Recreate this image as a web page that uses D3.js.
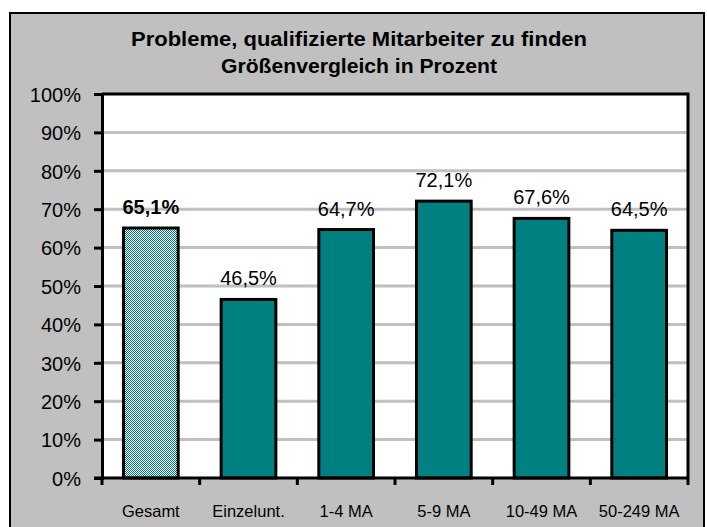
<!DOCTYPE html>
<html><head><meta charset="utf-8">
<script src="https://cdn.jsdelivr.net/npm/d3@7"></script>
<style>body{margin:0;background:#fff}svg{display:block;font-family:Arial,"Liberation Sans",sans-serif}</style>
</head><body><svg id="c" width="707" height="527"></svg>
<script>
const categories = ["Gesamt","Einzelunt.","1-4 MA","5-9 MA","10-49 MA","50-249 MA"];
const values = [65.1,46.5,64.7,72.1,67.6,64.5];
const valueLabels = ["65,1%","46,5%","64,7%","72,1%","67,6%","64,5%"];
const yTicks = [0,10,20,30,40,50,60,70,80,90,100];
const titleLines = ["Probleme, qualifizierte Mitarbeiter zu finden","Größenvergleich in Prozent"];

const FONT = "Arial, 'Liberation Sans', sans-serif";
const svg = d3.select("#c");
const defs = svg.append("defs");
const pat = defs.append("pattern").attr("id","dots").attr("width",2).attr("height",2).attr("patternUnits","userSpaceOnUse");
pat.append("rect").attr("width",2).attr("height",2).attr("fill","#ffffff");
pat.append("rect").attr("width",1).attr("height",1).attr("fill","#008080");
pat.append("rect").attr("x",1).attr("y",1).attr("width",1).attr("height",1).attr("fill","#008080");

// outer frame
svg.append("rect").attr("x",10).attr("y",13).attr("width",694).attr("height",530)
  .attr("fill","#c0c0c0").attr("stroke","#000").attr("stroke-width",2);

const L=102, R=688, T=94, B=478;
const x = d3.scaleBand().domain(categories).range([L,R]).paddingInner(0.44).paddingOuter(0.22);
const y = d3.scaleLinear().domain([0,100]).range([B,T]);

svg.append("rect").attr("x",L).attr("y",T).attr("width",R-L).attr("height",B-T).attr("fill","#fff");

// gridlines
svg.append("g").selectAll("line").data(yTicks.filter(d=>d>0&&d<100)).join("line")
  .attr("x1",L).attr("x2",R).attr("y1",d=>y(d)).attr("y2",d=>y(d))
  .attr("stroke","#c0c0c0").attr("stroke-width",3);

// bars
svg.append("g").selectAll("rect").data(values).join("rect")
  .attr("x",(d,i)=>x(categories[i])).attr("width",x.bandwidth())
  .attr("y",d=>y(d)).attr("height",d=>B-y(d))
  .attr("fill",(d,i)=>i===0?"url(#dots)":"#008080")
  .attr("stroke","#000").attr("stroke-width",3);

// plot border (top/right)
svg.append("path").attr("d",`M${L},${T}H${R}V${B}`).attr("fill","none").attr("stroke","#000").attr("stroke-width",3);

// y axis
const yAxis = d3.axisLeft(y).tickValues(yTicks).tickFormat(d=>d+"%").tickSize(8).tickPadding(13);
const gy = svg.append("g").attr("transform",`translate(${L},0)`).call(yAxis);
gy.select(".domain").attr("stroke","#000").attr("stroke-width",3);
gy.selectAll(".tick line").attr("stroke","#000").attr("stroke-width",3);
gy.selectAll("text").attr("font-size",20).attr("fill","#000").attr("font-family",FONT).attr("dy","0.36em");

// x axis
const bnd = d3.range(categories.length+1).map(i=>L+i*(R-L)/categories.length);
const gx = svg.append("g");
gx.append("line").attr("x1",L-8).attr("x2",R).attr("y1",B).attr("y2",B).attr("stroke","#000").attr("stroke-width",3);
gx.selectAll("line.t").data(bnd).join("line").attr("class","t")
  .attr("x1",d=>d).attr("x2",d=>d).attr("y1",B).attr("y2",B+7).attr("stroke","#000").attr("stroke-width",3);
const xAxis = d3.axisBottom(x).tickSize(0).tickPadding(0);
const gxl = svg.append("g").attr("transform",`translate(0,${B})`).call(xAxis);
gxl.select(".domain").remove();
gxl.selectAll("text").attr("font-size",16.5).attr("fill","#000").attr("dy",null).attr("y",39)
  .attr("font-family",FONT);

// value labels
svg.append("g").selectAll("text").data(values).join("text")
  .attr("x",(d,i)=>x(categories[i])+x.bandwidth()/2).attr("y",d=>y(d)-14)
  .attr("text-anchor","middle").attr("font-size",20)
  .attr("font-weight",(d,i)=>i===0?"bold":"normal")
  .text((d,i)=>valueLabels[i]);

// title
const titleWidths = [456, 276];
svg.append("g").selectAll("text").data(titleLines).join("text")
  .attr("x",359).attr("y",(d,i)=>46+i*27).attr("text-anchor","middle")
  .attr("font-size",20.5).attr("font-weight","bold")
  .attr("textLength",(d,i)=>titleWidths[i]).attr("lengthAdjust","spacingAndGlyphs")
  .text(d=>d);
</script></body></html>
